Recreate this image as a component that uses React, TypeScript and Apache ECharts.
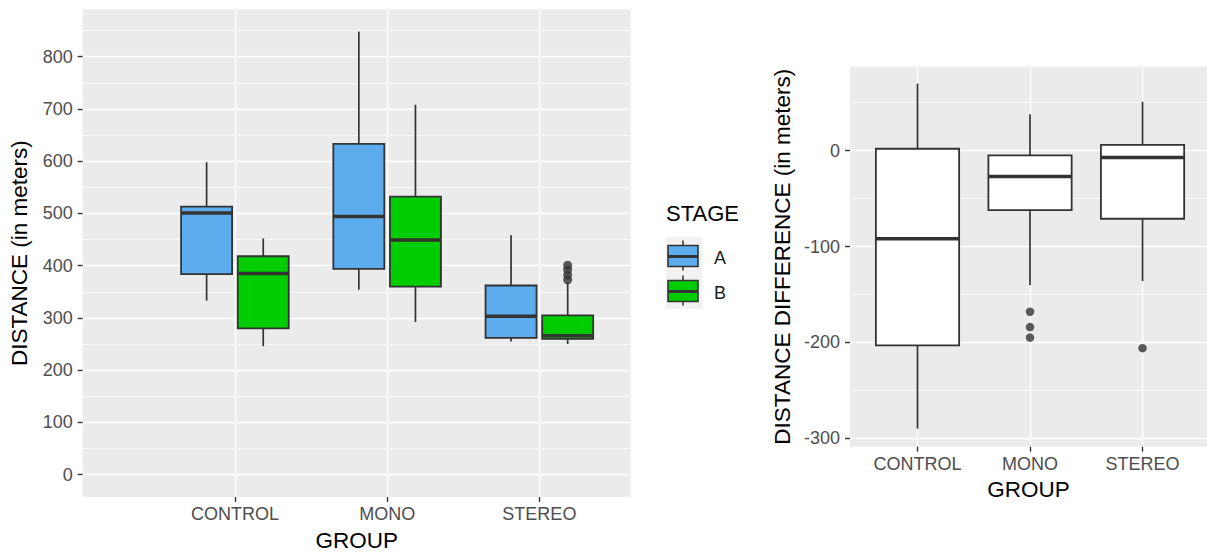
import React, { useEffect, useRef } from "react";
import * as echarts from "echarts";

// ---------- data ----------
const GROUPS = ["CONTROL", "MONO", "STEREO"];
const STAGES = ["A", "B"];

// [min, Q1, median, Q3, max] for each group (CONTROL, MONO, STEREO)
const STAGE_A_STATS = [
  [333, 384, 501, 513, 598],
  [354, 394, 494, 633, 848],
  [255, 262, 303, 362, 458],
];
const STAGE_B_STATS = [
  [246, 280, 385, 418, 452],
  [292, 360, 449, 532, 708],
  [250, 260, 266, 305, 368],
];
const STAGE_A_OUTLIERS: number[][] = [[], [], []];
const STAGE_B_OUTLIERS: number[][] = [[], [], [373, 382, 392, 401]];

const DIFF_STATS = [
  [-290, -203, -92, 2, 70],
  [-140, -62, -27, -5, 38],
  [-136, -71, -7, 6, 51],
];
const DIFF_OUTLIERS: number[][] = [[], [-168, -184, -195], [-206]];

const LEFT_Y_TICKS = [0, 100, 200, 300, 400, 500, 600, 700, 800];
const LEFT_Y_MINOR = [50, 150, 250, 350, 450, 550, 650, 750, 850];
const RIGHT_Y_TICKS = [-300, -200, -100, 0];
const RIGHT_Y_MINOR = [-250, -150, -50, 50];
const X_TICKS = [1, 2, 3];

// ---------- styles ----------
const FONT = "'Liberation Sans', Arial, Helvetica, sans-serif";
const PANEL = "#EBEBEB";
const EDGE = "#333333";
const TICK_TEXT = "#4D4D4D";
const STAGE_COLORS = ["#5CACEE", "#00CD00"];
const DODGE = 0.186;
const LEFT_BOX_W = 0.335;
const RIGHT_BOX_W = 0.74;

function boxSeries(
  name: string,
  stats: number[][],
  color: string,
  offset: number,
  boxW: number,
  axisIndex: number
) {
  return {
    type: "custom",
    name,
    xAxisIndex: axisIndex,
    yAxisIndex: axisIndex === 0 ? 0 : 2,
    z: 3,
    data: stats.map((s, i) => [i + 1 + offset, ...s]),
    encode: { x: 0, y: [1, 2, 3, 4, 5] },
    renderItem: (_params: any, api: any) => {
      const x = api.value(0);
      const pMin = api.coord([x, api.value(1)]);
      const yQ1 = api.coord([x, api.value(2)])[1];
      const yMed = api.coord([x, api.value(3)])[1];
      const yQ3 = api.coord([x, api.value(4)])[1];
      const yMax = api.coord([x, api.value(5)])[1];
      const cx = pMin[0];
      const w = api.size([boxW, 0])[0];
      return {
        type: "group",
        children: [
          { type: "line", shape: { x1: cx, y1: yQ1, x2: cx, y2: pMin[1] }, style: { stroke: EDGE, lineWidth: 1.7 } },
          { type: "line", shape: { x1: cx, y1: yQ3, x2: cx, y2: yMax }, style: { stroke: EDGE, lineWidth: 1.7 } },
          {
            type: "rect",
            shape: { x: cx - w / 2, y: yQ3, width: w, height: yQ1 - yQ3 },
            style: { fill: color, stroke: EDGE, lineWidth: 1.8 },
          },
          {
            type: "line",
            shape: { x1: cx - w / 2, y1: yMed, x2: cx + w / 2, y2: yMed },
            style: { stroke: EDGE, lineWidth: 3.5 },
          },
        ],
      };
    },
  };
}

function outlierSeries(name: string, outliers: number[][], offset: number, axisIndex: number, size: number) {
  const pts: number[][] = [];
  outliers.forEach((arr, i) => arr.forEach((v) => pts.push([i + 1 + offset, v])));
  return {
    type: "scatter",
    name,
    xAxisIndex: axisIndex,
    yAxisIndex: axisIndex === 0 ? 0 : 2,
    z: 4,
    symbol: "circle",
    symbolSize: size,
    itemStyle: { color: EDGE },
    data: pts,
  };
}

function xAxis(gridIndex: number, min: number, max: number, nameGap: number) {
  return {
    type: "value",
    gridIndex,
    min,
    max,
    position: "bottom",
    axisLine: { show: false, onZero: false },
    axisTick: { show: true, customValues: X_TICKS, length: 5, lineStyle: { color: EDGE, width: 1.4 } },
    axisLabel: {
      customValues: X_TICKS,
      formatter: (v: number) => GROUPS[Math.round(v) - 1] ?? "",
      color: TICK_TEXT,
      fontSize: 18,
      fontFamily: FONT,
      margin: 8,
    },
    splitLine: { show: true, lineStyle: { color: "#FFFFFF", width: 1.4 } },
    name: "GROUP",
    nameLocation: "middle",
    nameGap,
    nameTextStyle: { color: "#000", fontSize: 22.5, fontFamily: FONT },
  };
}

function yMajor(gridIndex: number, min: number, max: number, ticks: number[], name: string, nameGap: number) {
  return {
    type: "value",
    gridIndex,
    min,
    max,
    position: "left",
    axisLine: { show: false, onZero: false },
    axisTick: { show: true, customValues: ticks, length: 5, lineStyle: { color: EDGE, width: 1.4 } },
    axisLabel: { customValues: ticks, color: TICK_TEXT, fontSize: 18, fontFamily: FONT, margin: 10 },
    splitLine: { show: true, lineStyle: { color: "#FFFFFF", width: 1.4 } },
    name,
    nameLocation: "middle",
    nameGap,
    nameTextStyle: { color: "#000", fontSize: 22.5, fontFamily: FONT },
  };
}

function yMinor(gridIndex: number, min: number, max: number, ticks: number[]) {
  return {
    type: "value",
    gridIndex,
    min,
    max,
    position: "left",
    axisLine: { show: false, onZero: false },
    axisTick: { show: false, customValues: ticks },
    axisLabel: { show: false, customValues: ticks },
    splitLine: { show: true, lineStyle: { color: "#FFFFFF", width: 0.7 } },
  };
}

function legendGraphic() {
  const children: any[] = [
    {
      type: "text",
      x: 666,
      y: 213,
      style: { text: "STAGE", fontSize: 22, fontFamily: FONT, fill: "#000", verticalAlign: "middle" },
    },
    { type: "rect", shape: { x: 666, y: 237, width: 36, height: 72 }, style: { fill: "#F2F2F2" } },
  ];
  STAGES.forEach((s, i) => {
    const top = 237 + i * 35;
    const cy = top + 19.5;
    children.push(
      { type: "line", shape: { x1: 683, y1: cy - 16, x2: 683, y2: cy + 14 }, style: { stroke: EDGE, lineWidth: 1.5 } },
      {
        type: "rect",
        shape: { x: 668, y: cy - 11, width: 30, height: 21 },
        style: { fill: STAGE_COLORS[i], stroke: EDGE, lineWidth: 1.6 },
      },
      { type: "line", shape: { x1: 668, y1: cy, x2: 698, y2: cy }, style: { stroke: EDGE, lineWidth: 3 } },
      {
        type: "text",
        x: 714,
        y: cy + 1,
        style: { text: s, fontSize: 18, fontFamily: FONT, fill: "#1A1A1A", verticalAlign: "middle" },
      }
    );
  });
  return children;
}

export default function App() {
  const ref = useRef<HTMLDivElement>(null);
  useEffect(() => {
    if (!ref.current) return;
    const chart = echarts.init(ref.current, null, { renderer: "svg" });
    const option: any = {
      animation: false,
      backgroundColor: "#FFFFFF",
      textStyle: { fontFamily: FONT },
      grid: [
        { left: 82.7, top: 9.3, width: 548, height: 494, show: true, backgroundColor: PANEL, borderWidth: 0, containLabel: false },
        { left: 850, top: 66.7, width: 357, height: 380, show: true, backgroundColor: PANEL, borderWidth: 0, containLabel: false },
      ],
      xAxis: [xAxis(0, 0, 3.6, 32), xAxis(1, 0.4, 3.573, 30.5)],
      yAxis: [
        yMajor(0, -42.7, 890.6, LEFT_Y_TICKS, "DISTANCE (in meters)", 52),
        yMinor(0, -42.7, 890.6, LEFT_Y_MINOR),
        yMajor(1, -308.8, 87.6, RIGHT_Y_TICKS, "DISTANCE DIFFERENCE (in meters)", 56),
        yMinor(1, -308.8, 87.6, RIGHT_Y_MINOR),
      ],
      series: [
        boxSeries("A", STAGE_A_STATS, STAGE_COLORS[0], -DODGE, LEFT_BOX_W, 0),
        boxSeries("B", STAGE_B_STATS, STAGE_COLORS[1], DODGE, LEFT_BOX_W, 0),
        outlierSeries("A outliers", STAGE_A_OUTLIERS, -DODGE, 0, 9),
        outlierSeries("B outliers", STAGE_B_OUTLIERS, DODGE, 0, 9),
        boxSeries("DIFFERENCE", DIFF_STATS, "#FFFFFF", 0, RIGHT_BOX_W, 1),
        outlierSeries("DIFFERENCE outliers", DIFF_OUTLIERS, 0, 1, 8.5),
      ],
      graphic: legendGraphic(),
    };
    chart.setOption(option);
    return () => chart.dispose();
  }, []);
  return (
    <div
      ref={ref}
      style={{ position: "fixed", left: 0, top: 0, width: 1207, height: 557, background: "#fff" }}
    />
  );
}
